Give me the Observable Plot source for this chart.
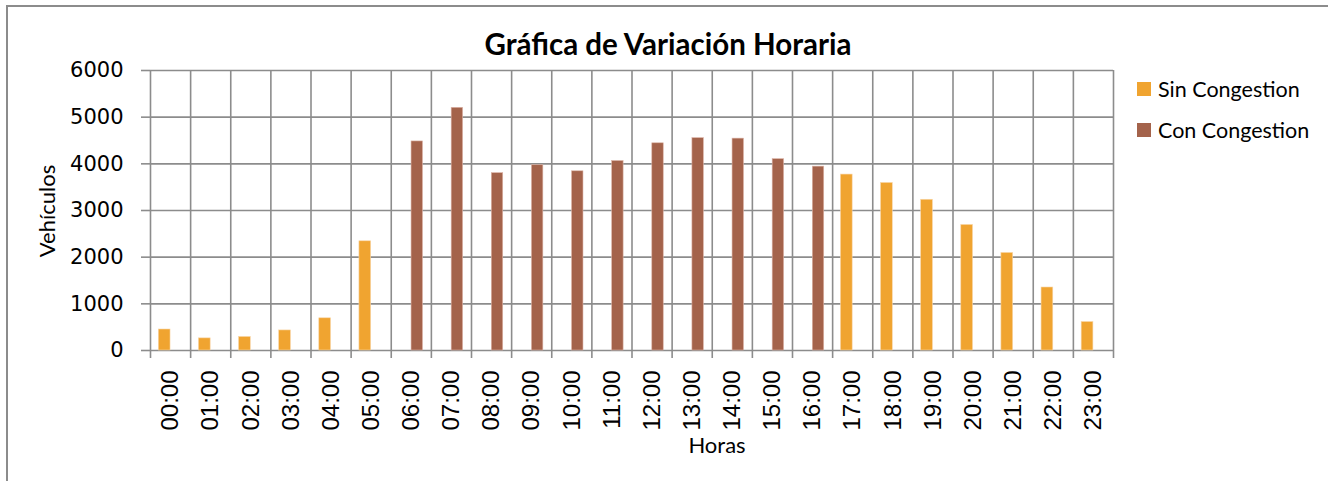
<!DOCTYPE html>
<html>
<head>
<meta charset="utf-8">
<script src="https://cdn.jsdelivr.net/npm/d3@7"></script>
<script src="https://cdn.jsdelivr.net/npm/@observablehq/plot@0.6"></script>
<style>
  html, body { margin: 0; padding: 0; background: #fff; overflow: hidden; }
  #wrap { position: relative; width: 1328px; height: 481px; overflow: hidden; }
  #frame { position: absolute; left: 6px; top: 5px; width: 1400px; height: 600px; border: 2px solid #8c8c8c; box-sizing: border-box; }
  #chart { position: absolute; left: 0; top: 0; }
  #overlay { position: absolute; left: 0; top: 0; pointer-events: none; }
</style>
</head>
<body>
<div id="wrap">
  <div id="frame"></div>
  <div id="chart"></div>
  <svg id="overlay" width="1328" height="481"></svg>
</div>
<script>
// ---- data ----
const hours = ["00:00","01:00","02:00","03:00","04:00","05:00","06:00","07:00","08:00","09:00","10:00","11:00",
               "12:00","13:00","14:00","15:00","16:00","17:00","18:00","19:00","20:00","21:00","22:00","23:00"];
const sinCongestion = [450, 260, 290, 430, 690, 2340, null, null, null, null, null, null,
                       null, null, null, null, null, 3770, 3590, 3230, 2690, 2090, 1350, 610];
const conCongestion = [null, null, null, null, null, null, 4480, 5200, 3800, 3970, 3840, 4060,
                       4440, 4550, 4540, 4100, 3940, null, null, null, null, null, null, null];
const yTicks = [0, 1000, 2000, 3000, 4000, 5000, 6000];
const seriesNames = ["Sin Congestion", "Con Congestion"];
const seriesColors = ["#F0A430", "#A4634B"];
const title = "Gráfica de Variación Horaria";
const xLabel = "Horas";
const yLabel = "Vehículos";

// ---- build table ----
const rows = [];
hours.forEach((h, i) => {
  if (sinCongestion[i] != null) rows.push({i, hour: h, serie: seriesNames[0], value: sinCongestion[i]});
  if (conCongestion[i] != null) rows.push({i, hour: h, serie: seriesNames[1], value: conCongestion[i]});
});
const boundaries = d3.range(hours.length + 1);
const centers = hours.map((h, i) => i + 0.5);
const grid = "#8c8c8c";

const chart = Plot.plot({
  width: 1328,
  height: 481,
  marginLeft: 150,
  marginRight: 215,
  marginTop: 70,
  marginBottom: 131,
  style: {background: "transparent", color: "#000"},
  x: {type: "linear", domain: [0, hours.length]},
  y: {domain: [0, 6000]},
  marks: [
    Plot.ruleY(yTicks, {stroke: grid, strokeWidth: 1.6}),
    Plot.ruleX(boundaries, {stroke: grid, strokeWidth: 1.6}),
    Plot.axisX({ticks: boundaries, tickSize: 8, tickFormat: () => "", stroke: grid, strokeWidth: 1.6, strokeOpacity: 1, label: null}),
    Plot.axisX({ticks: centers, tickSize: 0, tickPadding: 20, tickRotate: -90,
                tickFormat: d => hours[Math.floor(d)], label: null,
                fontFamily: "Liberation Sans, Arial, sans-serif", fontSize: 24}),
    Plot.axisY({ticks: yTicks, tickSize: 9, tickPadding: 18, stroke: grid, strokeWidth: 1.6, strokeOpacity: 1,
                tickFormat: d => String(d), label: null,
                fontFamily: "DejaVu Sans, sans-serif", fontSize: 21}),
    Plot.rectY(rows.filter(d => d.serie === seriesNames[0]),
      {x1: d => d.i, x2: d => d.i + 1, y1: 0, y2: "value", fill: seriesColors[0],
       insetLeft: 8.3, insetRight: 20.1, stroke: "#f8d6a8", strokeWidth: 0.6}),
    Plot.rectY(rows.filter(d => d.serie === seriesNames[1]),
      {x1: d => d.i, x2: d => d.i + 1, y1: 0, y2: "value", fill: seriesColors[1],
       insetLeft: 20.3, insetRight: 8.4, stroke: "#dcb3a6", strokeWidth: 0.6})
  ]
});
document.getElementById("chart").appendChild(chart);

// ---- title, axis labels, legend ----
const ov = d3.select("#overlay");
const font = "Lato, 'Open Sans', sans-serif";
ov.append("text").attr("x", 668).attr("y", 55).attr("text-anchor", "middle")
  .attr("font-family", font).attr("font-weight", "bold").attr("font-size", 29.5).text(title);
ov.append("text").attr("x", 717).attr("y", 453).attr("text-anchor", "middle")
  .attr("font-family", font).attr("font-size", 22).text(xLabel);
ov.append("text").attr("transform", "translate(55,211) rotate(-90)").attr("text-anchor", "middle")
  .attr("font-family", font).attr("font-size", 22).text(yLabel);
seriesNames.forEach((name, k) => {
  const cy = 89 + k * 41;
  ov.append("rect").attr("x", 1137).attr("y", cy - 7).attr("width", 14).attr("height", 14).attr("fill", seriesColors[k]);
  ov.append("text").attr("x", 1158).attr("y", cy).attr("dy", "0.36em")
    .attr("font-family", font).attr("font-size", 21.5).text(name);
});
</script>
</body>
</html>
